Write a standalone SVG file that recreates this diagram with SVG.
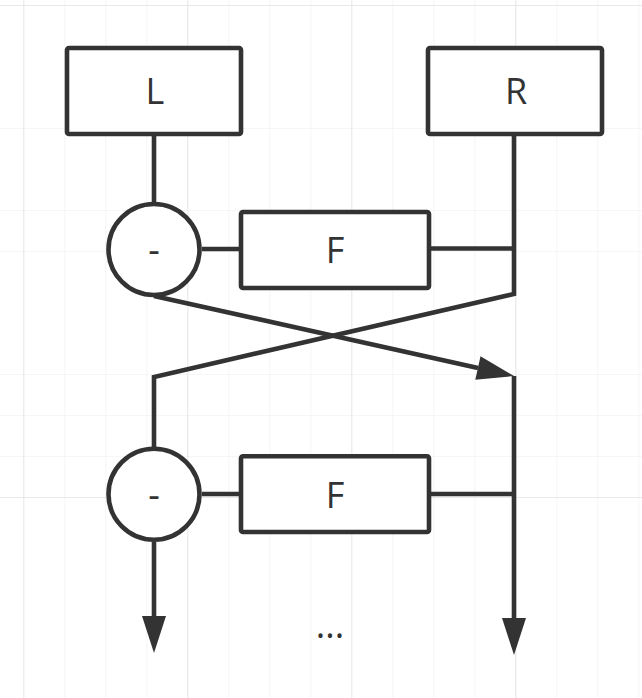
<svg xmlns="http://www.w3.org/2000/svg" width="642" height="698" viewBox="0 0 642 698">
<style>
.g{stroke:#eeeeee;stroke-width:1.2}
.gm{stroke:#e3e3e3;stroke-width:1.4}
.box{fill:#ffffff;stroke:#333333;stroke-width:4.6}
.ln{fill:none;stroke:#333333;stroke-width:4.6;stroke-linejoin:miter}
.ah{fill:#333333;stroke:none}
.t{font-family:"Open Sans","Noto Sans","Liberation Sans",sans-serif;font-size:36px;fill:#333333;text-anchor:middle;dominant-baseline:central}
</style>
<defs>
<pattern id="grid" x="23.3" y="5" width="41" height="41" patternUnits="userSpaceOnUse">
<line class="g" x1="0" y1="0" x2="0" y2="41"/>
<line class="g" x1="0" y1="0" x2="41" y2="0"/>
</pattern>
<pattern id="gridm" x="23.3" y="5" width="164" height="164" patternUnits="userSpaceOnUse">
<line class="gm" x1="0" y1="0" x2="0" y2="164"/>
<line class="gm" x1="0" y1="0" x2="164" y2="0"/>
</pattern>
</defs>
<rect width="642" height="698" fill="#ffffff"/>
<rect width="642" height="698" fill="url(#grid)"/>
<rect width="642" height="698" fill="url(#gridm)"/>
<g id="connectors">
<polyline class="ln" points="154,134 154,203"/>
<polyline class="ln" points="202,249 239,249"/>
<polyline class="ln" points="514,134 514,294 154,377 154,447"/>
<polyline class="ln" points="431,248.5 514,248.5"/>
<polyline class="ln" points="154,296 478,368"/>
<polygon class="ah" points="514,376 475.3,379.7 480.5,356.3"/>
<polyline class="ln" points="514,376 514,620"/>
<polygon class="ah" points="514,655 502,618 526,618"/>
<polyline class="ln" points="431,494 514,494"/>
<polyline class="ln" points="202,494 239,494"/>
<polyline class="ln" points="154,542 154,618"/>
<polygon class="ah" points="154,653 142,616 166,616"/>
</g>
<g id="node-L">
<rect class="box" x="67" y="48" width="174" height="86" rx="2"/>
<text class="t" x="155" y="90">L</text>
</g>
<g id="node-R">
<rect class="box" x="428" y="48" width="174" height="86" rx="2"/>
<text class="t" x="516" y="90">R</text>
</g>
<g id="node-minus1">
<circle class="box" cx="154" cy="249.5" r="45.5"/>
<text class="t" x="154" y="249">-</text>
</g>
<g id="node-F1">
<rect class="box" x="241" y="212" width="188" height="76" rx="2"/>
<text class="t" x="335" y="249">F</text>
</g>
<g id="node-minus2">
<circle class="box" cx="154" cy="494.2" r="45.5"/>
<text class="t" x="154" y="494">-</text>
</g>
<g id="node-F2">
<rect class="box" x="241" y="456.3" width="188" height="75.7" rx="2"/>
<text class="t" x="335" y="494">F</text>
</g>
<g id="ellipsis">
<text class="t" x="330" y="624">...</text>
</g>
</svg>
